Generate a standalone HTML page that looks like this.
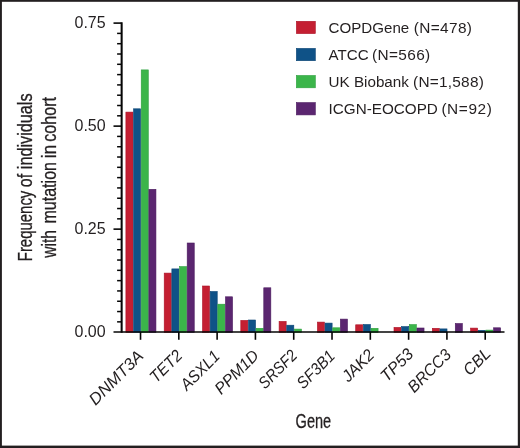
<!DOCTYPE html>
<html lang="en"><head><meta charset="utf-8"><title>Gene mutation frequency by cohort</title>
<style>
html,body{margin:0;padding:0;background:#fff;}
body{width:520px;height:448px;overflow:hidden;}
svg{display:block;}
text{font-family:"Liberation Sans",sans-serif;fill:#231f20;}
.it{font-style:italic;}
</style></head><body>
<svg width="520" height="448" viewBox="0 0 520 448">
<rect x="0" y="0" width="520" height="448" fill="#fff"/>

<rect x="0" y="0" width="520" height="1.8" fill="#231f20"/>
<rect x="0" y="445.6" width="520" height="2.4" fill="#231f20"/>
<rect x="0" y="0" width="1.9" height="448" fill="#231f20"/>
<rect x="517.8" y="0" width="2.2" height="448" fill="#231f20"/>
<g>
<rect x="125.90" y="112.1" width="7.06" height="220.2" fill="#c41f32" stroke="#ac1327" stroke-width="0.6"/>
<rect x="133.56" y="108.8" width="7.06" height="223.5" fill="#0f5287" stroke="#0a4474" stroke-width="0.6"/>
<rect x="141.22" y="69.9" width="7.06" height="262.4" fill="#3bb54a" stroke="#2c9f3d" stroke-width="0.6"/>
<rect x="148.88" y="189.3" width="7.06" height="143.0" fill="#5b2670" stroke="#4b1b5f" stroke-width="0.6"/>
<rect x="164.20" y="273.1" width="7.06" height="59.2" fill="#c41f32" stroke="#ac1327" stroke-width="0.6"/>
<rect x="171.86" y="268.9" width="7.06" height="63.4" fill="#0f5287" stroke="#0a4474" stroke-width="0.6"/>
<rect x="179.52" y="266.6" width="7.06" height="65.7" fill="#3bb54a" stroke="#2c9f3d" stroke-width="0.6"/>
<rect x="187.18" y="243.0" width="7.06" height="89.3" fill="#5b2670" stroke="#4b1b5f" stroke-width="0.6"/>
<rect x="202.50" y="286.0" width="7.06" height="46.3" fill="#c41f32" stroke="#ac1327" stroke-width="0.6"/>
<rect x="210.16" y="291.5" width="7.06" height="40.8" fill="#0f5287" stroke="#0a4474" stroke-width="0.6"/>
<rect x="217.82" y="304.2" width="7.06" height="28.1" fill="#3bb54a" stroke="#2c9f3d" stroke-width="0.6"/>
<rect x="225.48" y="296.8" width="7.06" height="35.5" fill="#5b2670" stroke="#4b1b5f" stroke-width="0.6"/>
<rect x="240.80" y="320.4" width="7.06" height="11.9" fill="#c41f32" stroke="#ac1327" stroke-width="0.6"/>
<rect x="248.46" y="320.0" width="7.06" height="12.3" fill="#0f5287" stroke="#0a4474" stroke-width="0.6"/>
<rect x="256.12" y="328.3" width="7.06" height="4.0" fill="#3bb54a" stroke="#2c9f3d" stroke-width="0.6"/>
<rect x="263.78" y="287.8" width="7.06" height="44.5" fill="#5b2670" stroke="#4b1b5f" stroke-width="0.6"/>
<rect x="279.10" y="321.4" width="7.06" height="10.9" fill="#c41f32" stroke="#ac1327" stroke-width="0.6"/>
<rect x="286.76" y="325.2" width="7.06" height="7.1" fill="#0f5287" stroke="#0a4474" stroke-width="0.6"/>
<rect x="294.42" y="329.1" width="7.06" height="3.2" fill="#3bb54a" stroke="#2c9f3d" stroke-width="0.6"/>
<rect x="317.40" y="322.1" width="7.06" height="10.2" fill="#c41f32" stroke="#ac1327" stroke-width="0.6"/>
<rect x="325.06" y="323.1" width="7.06" height="9.2" fill="#0f5287" stroke="#0a4474" stroke-width="0.6"/>
<rect x="332.72" y="327.8" width="7.06" height="4.5" fill="#3bb54a" stroke="#2c9f3d" stroke-width="0.6"/>
<rect x="340.38" y="319.1" width="7.06" height="13.2" fill="#5b2670" stroke="#4b1b5f" stroke-width="0.6"/>
<rect x="355.70" y="324.8" width="7.06" height="7.5" fill="#c41f32" stroke="#ac1327" stroke-width="0.6"/>
<rect x="363.36" y="324.5" width="7.06" height="7.8" fill="#0f5287" stroke="#0a4474" stroke-width="0.6"/>
<rect x="371.02" y="328.3" width="7.06" height="4.0" fill="#3bb54a" stroke="#2c9f3d" stroke-width="0.6"/>
<rect x="394.00" y="327.4" width="7.06" height="4.9" fill="#c41f32" stroke="#ac1327" stroke-width="0.6"/>
<rect x="401.66" y="326.6" width="7.06" height="5.7" fill="#0f5287" stroke="#0a4474" stroke-width="0.6"/>
<rect x="409.32" y="324.6" width="7.06" height="7.7" fill="#3bb54a" stroke="#2c9f3d" stroke-width="0.6"/>
<rect x="416.98" y="328.0" width="7.06" height="4.3" fill="#5b2670" stroke="#4b1b5f" stroke-width="0.6"/>
<rect x="432.30" y="328.3" width="7.06" height="4.0" fill="#c41f32" stroke="#ac1327" stroke-width="0.6"/>
<rect x="439.96" y="328.9" width="7.06" height="3.4" fill="#0f5287" stroke="#0a4474" stroke-width="0.6"/>
<rect x="455.28" y="323.5" width="7.06" height="8.8" fill="#5b2670" stroke="#4b1b5f" stroke-width="0.6"/>
<rect x="470.60" y="328.1" width="7.06" height="4.2" fill="#c41f32" stroke="#ac1327" stroke-width="0.6"/>
<rect x="478.26" y="330.3" width="7.06" height="2.0" fill="#0f5287" stroke="#0a4474" stroke-width="0.6"/>
<rect x="485.92" y="330.1" width="7.06" height="2.2" fill="#3bb54a" stroke="#2c9f3d" stroke-width="0.6"/>
<rect x="493.58" y="327.8" width="7.06" height="4.5" fill="#5b2670" stroke="#4b1b5f" stroke-width="0.6"/>
</g>
<g stroke="#060606" fill="none">
<line x1="121.65" y1="22.3" x2="121.65" y2="332.8" stroke-width="2.05"/>
<line x1="113.5" y1="332.05" x2="504.5" y2="332.05" stroke-width="1.55"/>
<line x1="117.1" y1="321.85" x2="121.5" y2="321.85" stroke-width="1.5"/>
<line x1="117.1" y1="311.55" x2="121.5" y2="311.55" stroke-width="1.5"/>
<line x1="117.1" y1="301.25" x2="121.5" y2="301.25" stroke-width="1.5"/>
<line x1="117.1" y1="290.94" x2="121.5" y2="290.94" stroke-width="1.5"/>
<line x1="117.1" y1="280.64" x2="121.5" y2="280.64" stroke-width="1.5"/>
<line x1="117.1" y1="270.34" x2="121.5" y2="270.34" stroke-width="1.5"/>
<line x1="117.1" y1="260.04" x2="121.5" y2="260.04" stroke-width="1.5"/>
<line x1="117.1" y1="249.74" x2="121.5" y2="249.74" stroke-width="1.5"/>
<line x1="117.1" y1="239.44" x2="121.5" y2="239.44" stroke-width="1.5"/>
<line x1="113.5" y1="229.13" x2="121.5" y2="229.13" stroke-width="1.6"/>
<line x1="117.1" y1="218.83" x2="121.5" y2="218.83" stroke-width="1.5"/>
<line x1="117.1" y1="208.53" x2="121.5" y2="208.53" stroke-width="1.5"/>
<line x1="117.1" y1="198.23" x2="121.5" y2="198.23" stroke-width="1.5"/>
<line x1="117.1" y1="187.93" x2="121.5" y2="187.93" stroke-width="1.5"/>
<line x1="117.1" y1="177.62" x2="121.5" y2="177.62" stroke-width="1.5"/>
<line x1="117.1" y1="167.32" x2="121.5" y2="167.32" stroke-width="1.5"/>
<line x1="117.1" y1="157.02" x2="121.5" y2="157.02" stroke-width="1.5"/>
<line x1="117.1" y1="146.72" x2="121.5" y2="146.72" stroke-width="1.5"/>
<line x1="117.1" y1="136.42" x2="121.5" y2="136.42" stroke-width="1.5"/>
<line x1="113.5" y1="126.12" x2="121.5" y2="126.12" stroke-width="1.6"/>
<line x1="117.1" y1="115.81" x2="121.5" y2="115.81" stroke-width="1.5"/>
<line x1="117.1" y1="105.51" x2="121.5" y2="105.51" stroke-width="1.5"/>
<line x1="117.1" y1="95.21" x2="121.5" y2="95.21" stroke-width="1.5"/>
<line x1="117.1" y1="84.91" x2="121.5" y2="84.91" stroke-width="1.5"/>
<line x1="117.1" y1="74.61" x2="121.5" y2="74.61" stroke-width="1.5"/>
<line x1="117.1" y1="64.31" x2="121.5" y2="64.31" stroke-width="1.5"/>
<line x1="117.1" y1="54.01" x2="121.5" y2="54.01" stroke-width="1.5"/>
<line x1="117.1" y1="43.70" x2="121.5" y2="43.70" stroke-width="1.5"/>
<line x1="117.1" y1="33.40" x2="121.5" y2="33.40" stroke-width="1.5"/>
<line x1="113.5" y1="23.10" x2="121.5" y2="23.10" stroke-width="1.6"/>
<line x1="140.52" y1="332" x2="140.52" y2="339.8" stroke-width="1.6"/>
<line x1="178.82" y1="332" x2="178.82" y2="339.8" stroke-width="1.6"/>
<line x1="217.12" y1="332" x2="217.12" y2="339.8" stroke-width="1.6"/>
<line x1="255.42" y1="332" x2="255.42" y2="339.8" stroke-width="1.6"/>
<line x1="293.72" y1="332" x2="293.72" y2="339.8" stroke-width="1.6"/>
<line x1="332.02" y1="332" x2="332.02" y2="339.8" stroke-width="1.6"/>
<line x1="370.32" y1="332" x2="370.32" y2="339.8" stroke-width="1.6"/>
<line x1="408.62" y1="332" x2="408.62" y2="339.8" stroke-width="1.6"/>
<line x1="446.92" y1="332" x2="446.92" y2="339.8" stroke-width="1.6"/>
<line x1="485.22" y1="332" x2="485.22" y2="339.8" stroke-width="1.6"/>
</g>
<text x="105.6" y="28.4" font-size="16" text-anchor="end" textLength="31.1" lengthAdjust="spacingAndGlyphs">0.75</text>
<text x="105.6" y="131.4" font-size="16" text-anchor="end" textLength="31.1" lengthAdjust="spacingAndGlyphs">0.50</text>
<text x="105.6" y="234.4" font-size="16" text-anchor="end" textLength="31.1" lengthAdjust="spacingAndGlyphs">0.25</text>
<text x="105.6" y="337.4" font-size="16" text-anchor="end" textLength="31.1" lengthAdjust="spacingAndGlyphs">0.00</text>
<text transform="translate(32,261.22) rotate(-90)" font-size="19.5" stroke="#231f20" stroke-width="0.3" textLength="70.54" lengthAdjust="spacingAndGlyphs">Frequency</text>
<text transform="translate(32,187.21) rotate(-90)" font-size="19.5" stroke="#231f20" stroke-width="0.3" textLength="13.35" lengthAdjust="spacingAndGlyphs">of</text>
<text transform="translate(32,169.23) rotate(-90)" font-size="19.5" stroke="#231f20" stroke-width="0.3" textLength="75.82" lengthAdjust="spacingAndGlyphs">individuals</text>
<text transform="translate(56,257.76) rotate(-90)" font-size="19.5" stroke="#231f20" stroke-width="0.3" textLength="27.74" lengthAdjust="spacingAndGlyphs">with</text>
<text transform="translate(56,223.49) rotate(-90)" font-size="19.5" stroke="#231f20" stroke-width="0.3" textLength="61.44" lengthAdjust="spacingAndGlyphs">mutation</text>
<text transform="translate(56,158.33) rotate(-90)" font-size="19.5" stroke="#231f20" stroke-width="0.3" textLength="13.62" lengthAdjust="spacingAndGlyphs">in</text>
<text transform="translate(56,141.75) rotate(-90)" font-size="19.5" stroke="#231f20" stroke-width="0.3" textLength="44.80" lengthAdjust="spacingAndGlyphs">cohort</text>
<text class="it" transform="translate(144.5,357.0) rotate(-45)" font-size="16.5" text-anchor="end" textLength="69.2" lengthAdjust="spacingAndGlyphs">DNMT3A</text>
<text class="it" transform="translate(183.3,356.5) rotate(-45)" font-size="16.5" text-anchor="end" textLength="38.2" lengthAdjust="spacingAndGlyphs">TET2</text>
<text class="it" transform="translate(220.8,357.3) rotate(-45)" font-size="16.5" text-anchor="end" textLength="47.9" lengthAdjust="spacingAndGlyphs">ASXL1</text>
<text class="it" transform="translate(259.9,356.5) rotate(-45)" font-size="16.5" text-anchor="end" textLength="54.8" lengthAdjust="spacingAndGlyphs">PPM1D</text>
<text class="it" transform="translate(298.2,356.5) rotate(-45)" font-size="16.5" text-anchor="end" textLength="46.9" lengthAdjust="spacingAndGlyphs">SRSF2</text>
<text class="it" transform="translate(336.0,357.0) rotate(-45)" font-size="16.5" text-anchor="end" textLength="46.2" lengthAdjust="spacingAndGlyphs">SF3B1</text>
<text class="it" transform="translate(375.3,356.0) rotate(-45)" font-size="16.5" text-anchor="end" textLength="38.0" lengthAdjust="spacingAndGlyphs">JAK2</text>
<text class="it" transform="translate(414.4,355.2) rotate(-45)" font-size="16.5" text-anchor="end" textLength="38.7" lengthAdjust="spacingAndGlyphs">TP53</text>
<text class="it" transform="translate(452.1,355.8) rotate(-45)" font-size="16.5" text-anchor="end" textLength="53.4" lengthAdjust="spacingAndGlyphs">BRCC3</text>
<text class="it" transform="translate(491.7,354.5) rotate(-45)" font-size="16.5" text-anchor="end" textLength="31.0" lengthAdjust="spacingAndGlyphs">CBL</text>
<text x="313.4" y="428.3" font-size="19.5" text-anchor="middle" stroke="#231f20" stroke-width="0.3" textLength="35.6" lengthAdjust="spacingAndGlyphs">Gene</text>
<rect x="296.35" y="21.3" width="18.95" height="12.3" fill="#c41f32" stroke="#ac1327" stroke-width="0.6"/>
<text x="328.6" y="32.7" font-size="15.4" textLength="80.6" lengthAdjust="spacingAndGlyphs">COPDGene</text>
<text x="472.0" y="32.7" font-size="15.4" text-anchor="end" textLength="58.2" lengthAdjust="spacing">(N=478)</text>
<rect x="296.35" y="48.4" width="18.95" height="12.3" fill="#0f5287" stroke="#0a4474" stroke-width="0.6"/>
<text x="328.6" y="59.9" font-size="15.4" textLength="40.1" lengthAdjust="spacingAndGlyphs">ATCC</text>
<text x="430.2" y="59.9" font-size="15.4" text-anchor="end" textLength="58.1" lengthAdjust="spacing">(N=566)</text>
<rect x="296.35" y="75.5" width="18.95" height="12.3" fill="#3bb54a" stroke="#2c9f3d" stroke-width="0.6"/>
<text x="328.6" y="87.1" font-size="15.4" textLength="80.3" lengthAdjust="spacingAndGlyphs">UK Biobank</text>
<text x="483.8" y="87.1" font-size="15.4" text-anchor="end" textLength="70.7" lengthAdjust="spacing">(N=1,588)</text>
<rect x="296.35" y="102.6" width="18.95" height="12.3" fill="#5b2670" stroke="#4b1b5f" stroke-width="0.6"/>
<text x="328.6" y="114.3" font-size="15.4" textLength="109.3" lengthAdjust="spacingAndGlyphs">ICGN-EOCOPD</text>
<text x="491.8" y="114.3" font-size="15.4" text-anchor="end" textLength="50.4" lengthAdjust="spacing">(N=92)</text>
</svg>
</body></html>
